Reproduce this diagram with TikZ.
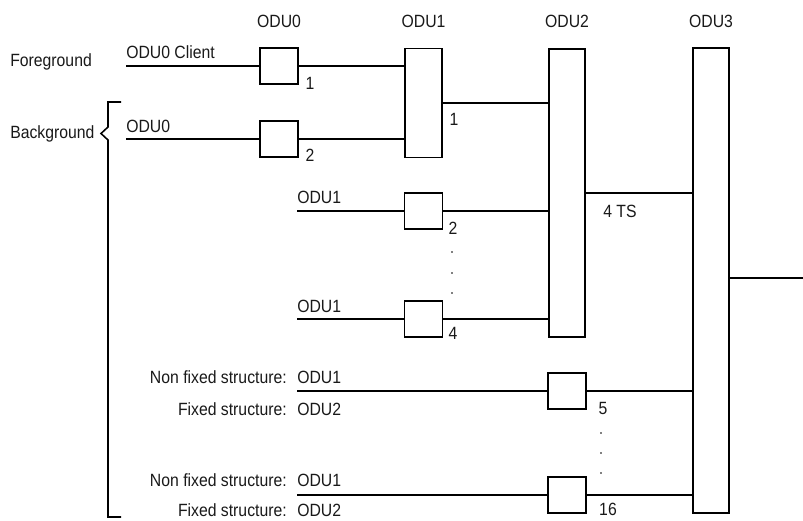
\documentclass[tikz,border=0pt]{standalone}
\usepackage{fontspec}
\setmainfont[FakeStretch=0.89]{Liberation Sans}
\usetikzlibrary{calc}

\begin{document}
\begin{tikzpicture}[x=0.025cm, y=-0.025cm, font=\fontsize{12.6}{14}\selectfont,
                    every node/.style={text=black!90}]
  \useasboundingbox (0,0) rectangle (803,520);
  \tikzset{mux/.style={draw, line width=1.1pt, fill=white, inner sep=0pt,
            minimum width=0.95cm, minimum height=0.9cm},
           bar/.style={draw, line width=1.1pt, inner sep=0pt, minimum width=0.9cm},
           wire/.style={line width=1.1pt},
           lbl/.style={inner sep=0pt, anchor=base west},
           num/.style={inner sep=0pt, anchor=base}}

  % multiplexing stages, one column each
  \node[bar, minimum width=0.925cm, minimum height=2.725cm] (odu1) at (423.5,103) {};
  \node[bar, minimum height=7.2cm] (odu2) at (567,193) {};
  \node[bar, minimum height=11.625cm] (odu3) at (711,280.5) {};
  \node[num] (h0) at (279,27) {ODU0};
  \node[num] (h1) at (423.5,27) {ODU1};
  \node[num] (h2) at (567,27) {ODU2};
  \node[num] (h3) at (711,27) {ODU3};

  \node[mux] (m01) at (279,66) {};
  \node[mux] (m02) at (279,139) {};
  \node[mux] (m12) at (423.5,211) {};
  \node[mux] (m14) at (423.5,319) {};
  \node[mux] (m25) at (567,391) {};
  \node[mux] (m216) at (567,495) {};

  \coordinate (in01) at (126,66);
  \coordinate (in02) at (126,139);
  \coordinate (in12) at (297,211);
  \coordinate (in14) at (297,319);
  \coordinate (in25) at (297,391);
  \coordinate (in216) at (297,495);
  \coordinate (out) at (803,278);

  \draw[wire] (in01) -- (m01) (m01.east) -- (m01.east -| odu1.west);
  \draw[wire] (in02) -- (m02) (m02.east) -- (m02.east -| odu1.west);
  \draw[wire] (in12) -- (m12) (m12.east) -- (m12.east -| odu2.west);
  \draw[wire] (in14) -- (m14) (m14.east) -- (m14.east -| odu2.west);
  \draw[wire] (in25) -- (m25) (m25.east) -- (m25.east -| odu3.west);
  \draw[wire] (in216) -- (m216) (m216.east) -- (m216.east -| odu3.west);
  \draw[wire] (odu1.east) -- (odu1.east -| odu2.west);
  \draw[wire] (odu2.east) -- (odu2.east -| odu3.west);
  \draw[wire] (out -| odu3.east) -- (out);

  % tributary slot numbers
  \node[num] (n01) at (310,89) {1};
  \node[num] (n02) at (310,161) {2};
  \node[num] (n11) at (454,125) {1};
  \node[num] (n12) at (453,234) {2};
  \node[num] (n14) at (453,339) {4};
  \node[num] (n25) at (603,414) {5};
  \node[num] (n216) at (608,515) {16};
  \node[num] (ts) at (620,217) {4 TS};
  \foreach \y in {252,273,293} \fill (452,\y) circle (0.6pt);
  \foreach \y in {433,453,473} \fill (601,\y) circle (0.6pt);

  % client signals
  \node[lbl] (fg) at (10,66) {Foreground};
  \node[lbl] (bg) at (10,138.5) {Background};
  \node[lbl] (c01) at (126,58) {ODU0 Client};
  \node[lbl] (c02) at (126,132) {ODU0};
  \node[lbl] (c12) at (297,203) {ODU1};
  \node[lbl] (c14) at (297,312) {ODU1};
  \node[lbl] (c25a) at (297,383) {ODU1};
  \node[lbl] (c25b) at (297,415) {ODU2};
  \node[lbl] (c216a) at (297,486) {ODU1};
  \node[lbl] (c216b) at (297,516.5) {ODU2};
  \node[lbl, anchor=base east] (nf1) at (287,383) {Non fixed structure:};
  \node[lbl, anchor=base east] (fx1) at (287,415) {Fixed structure:};
  \node[lbl, anchor=base east] (nf2) at (287,486) {Non fixed structure:};
  \node[lbl, anchor=base east] (fx2) at (287,516.5) {Fixed structure:};

  \draw[wire] (121,102) -- (108,102) -- (108,127) -- (101,133.5) -- (108,140)
    -- (108,517) -- (121,517);
\end{tikzpicture}
\end{document}
